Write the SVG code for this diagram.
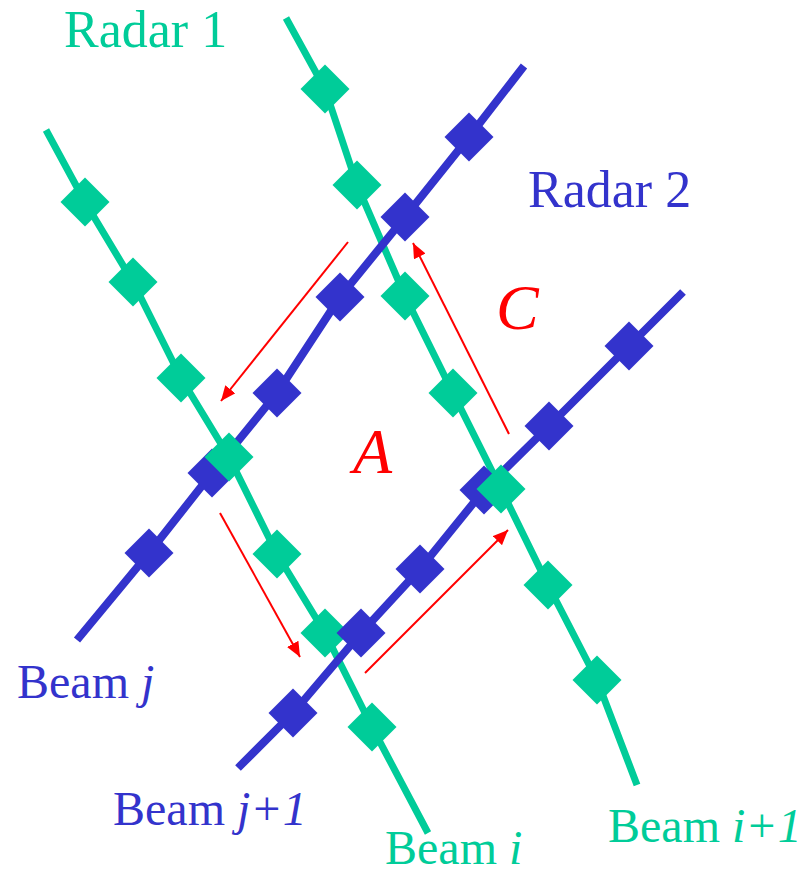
<svg xmlns="http://www.w3.org/2000/svg" xmlns:xlink="http://www.w3.org/1999/xlink" width="803" height="875" viewBox="0 0 803 875">
<style>
.gl{fill:none;stroke:#00CC99;stroke-width:7;stroke-linejoin:round}
.bl{fill:none;stroke:#3333CC;stroke-width:8;stroke-linejoin:round}
.g{fill:#00CC99}
.b{fill:#3333CC}
.arr{fill:none;stroke:#FF0000;stroke-width:2;marker-end:url(#ah)}
text{font-family:"Times New Roman","Liberation Serif",Tinos,"Nimbus Roman","Noto Serif","DejaVu Serif",FreeSerif,serif}
.tg{fill:#00CC99;font-size:48px}
.tb{fill:#3333CC;font-size:48px}
.tr{fill:#FF0000;font-size:64px;font-style:italic}
.it{font-style:italic}
</style>
<defs>
<path id="d" d="M0,-24.5 L24.5,0 L0,24.5 L-24.5,0 Z"/>
<marker id="ah" markerUnits="userSpaceOnUse" markerWidth="16" markerHeight="14" refX="15" refY="6.5" orient="auto">
<path d="M0,0 L15,6.5 L0,13 Z" fill="#FF0000"/>
</marker>
</defs>
<rect width="803" height="875" fill="#FFFFFF"/>
<g id="connectors">
<polyline id="beam-i-line" class="gl" points="46,130 85,202 133,282 181,378 229,457 277,554 325,633 372,727 428,833"/>
<polyline id="beam-i1-line" class="gl" points="286,18 325,89 357,185 405,296 453,393 501,489 548,585 597,680 637,785"/>
<polyline id="beam-j-line" class="bl" points="524,66 469,137 405,217 340,297 277,393 212,473 149,553 77,640"/>
<polyline id="beam-j1-line" class="bl" points="683,292 629,346 549,426 484,490 420,569 361,633 293,713 238,768"/>
<line class="arr" x1="348" y1="242" x2="221" y2="401"/>
<line class="arr" x1="220" y1="513" x2="300" y2="657"/>
<line class="arr" x1="365" y1="673" x2="508" y2="530"/>
<line class="arr" x1="509" y1="434" x2="413" y2="243"/>
</g>
<g id="beam-i-gates">
<use xlink:href="#d" href="#d" class="g" x="85" y="202"/>
<use xlink:href="#d" href="#d" class="g" x="133" y="282"/>
<use xlink:href="#d" href="#d" class="g" x="181" y="378"/>
<use xlink:href="#d" href="#d" class="g" x="277" y="554"/>
<use xlink:href="#d" href="#d" class="g" x="325" y="633"/>
<use xlink:href="#d" href="#d" class="g" x="372" y="727"/>
</g>
<g id="beam-i1-gates">
<use xlink:href="#d" href="#d" class="g" x="325" y="89"/>
<use xlink:href="#d" href="#d" class="g" x="357" y="185"/>
<use xlink:href="#d" href="#d" class="g" x="405" y="296"/>
<use xlink:href="#d" href="#d" class="g" x="453" y="393"/>
<use xlink:href="#d" href="#d" class="g" x="548" y="585"/>
<use xlink:href="#d" href="#d" class="g" x="597" y="680"/>
</g>
<g id="beam-j-gates">
<use xlink:href="#d" href="#d" class="b" x="469" y="137"/>
<use xlink:href="#d" href="#d" class="b" x="405" y="217"/>
<use xlink:href="#d" href="#d" class="b" x="340" y="297"/>
<use xlink:href="#d" href="#d" class="b" x="277" y="393"/>
<use xlink:href="#d" href="#d" class="b" x="212" y="473"/>
<use xlink:href="#d" href="#d" class="b" x="149" y="553"/>
</g>
<g id="beam-j1-gates">
<use xlink:href="#d" href="#d" class="b" x="629" y="346"/>
<use xlink:href="#d" href="#d" class="b" x="549" y="426"/>
<use xlink:href="#d" href="#d" class="b" x="484" y="490"/>
<use xlink:href="#d" href="#d" class="b" x="420" y="569"/>
<use xlink:href="#d" href="#d" class="b" x="361" y="633"/>
<use xlink:href="#d" href="#d" class="b" x="293" y="713"/>
</g>
<g id="crossing-gates">
<use xlink:href="#d" href="#d" class="g" x="229" y="457"/>
<use xlink:href="#d" href="#d" class="g" x="501" y="489"/>
</g>
<g id="label-radar1"><text class="tg" x="64" y="47" style="font-size:52px">Radar 1</text></g>
<g id="label-radar2"><text class="tb" x="528" y="207" style="font-size:52px">Radar 2</text></g>
<g id="label-A"><text class="tr" x="353" y="473">A</text></g>
<g id="label-C"><text class="tr" x="496" y="329">C</text></g>
<g id="label-beam-j"><text class="tb" x="17" y="698">Beam <tspan class="it">j</tspan></text></g>
<g id="label-beam-j1"><text class="tb" x="113" y="825">Beam <tspan class="it">j+1</tspan></text></g>
<g id="label-beam-i"><text class="tg" x="385" y="864">Beam <tspan class="it">i</tspan></text></g>
<g id="label-beam-i1"><text class="tg" x="608" y="842">Beam <tspan class="it">i+1</tspan></text></g>
</svg>
